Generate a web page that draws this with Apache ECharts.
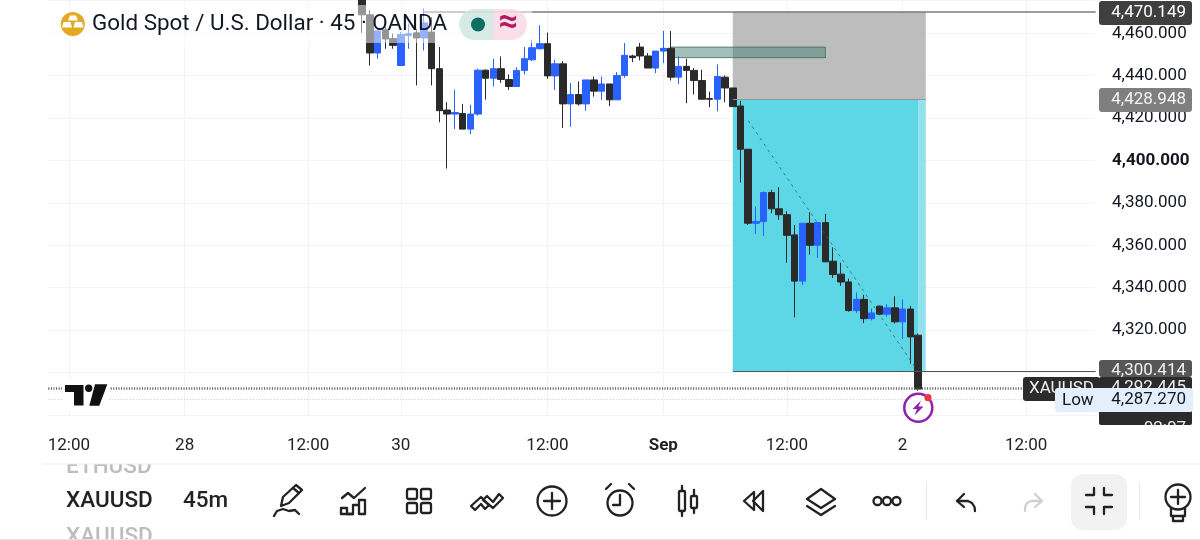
<!DOCTYPE html>
<html><head><meta charset="utf-8">
<style>html,body{margin:0;padding:0;background:#fff}#c{width:1200px;height:540px}</style>
<script src="https://cdn.jsdelivr.net/npm/echarts@6/dist/echarts.min.js"></script>
</head><body><div id="c"></div>
<script>
const firstCandle = 39;
const opens  = [4495,4490,4482,4468.7,4450.7,4461.7,4457.5,4444.8,4459,4460.2,4457.8,4460.6,4443.3,4423.8,4421.9,4422.2,4414.8,4421.9,4442.6,4438.8,4443.3,4438.2,4434.9,4442.5,4447.5,4452.7,4455.1,4439.9,4445.6,4426.7,4431.1,4426.7,4438,4432.7,4436.1,4428.6,4440.1,4449.3,4453.5,4449.3,4443.6,4451.6,4452.9,4439.3,4444.4,4442.5,4437.7,4429.2,4428.9,4439.3,4434.2,4425.7,4405.3,4370.4,4371.2,4384.9,4377.2,4374.4,4364.9,4343.1,4370.4,4360,4370.7,4352.5,4346.4,4342.7,4329.2,4334.5,4325.4,4331.3,4327.5,4330.5,4323.9,4329.9,4317.6];
const closes = [4490,4485,4468.7,4450.7,4461.1,4457.3,4454.3,4459.4,4459.8,4457.8,4464.9,4443.3,4423.5,4421.9,4422.6,4414.8,4421.9,4442.6,4438.8,4443.3,4438.2,4434.9,4442.5,4448,4453.2,4455.1,4439.9,4445.6,4426.7,4431.1,4426.7,4438,4432.7,4436.1,4428.6,4440.1,4449.6,4448.5,4449.3,4443.6,4451.6,4452.9,4439.3,4444.4,4442.5,4437.7,4428.9,4428.9,4439.6,4434.2,4425.4,4405.3,4370.4,4371.3,4384.9,4377.2,4374.4,4364.7,4343.1,4370.4,4360,4370.7,4352.2,4346.2,4342.7,4329.2,4334.5,4325.4,4328.1,4327.5,4330.5,4323.9,4329.9,4316.8,4292.2];
const lows   = [4489,4484,4460.2,4444.8,4448,4452.7,4452.7,4444.5,4452.7,4435.4,4451.9,4435.4,4418,4396.2,4414.8,4414.8,4412.4,4421.1,4428.7,4434.9,4436.6,4433.3,4434.9,4440.6,4446.9,4452.3,4438.5,4433.3,4415.3,4415.9,4425.9,4423.5,4430.1,4428.6,4425.6,4428.6,4439,4446.4,4447.2,4443.6,4441.2,4445.9,4437.7,4436.1,4427,4431.1,4428.9,4425.1,4423.2,4427.5,4425.4,4389.6,4369.6,4365.3,4364.4,4375.1,4372,4351.8,4326,4341.2,4355.6,4354,4352.2,4344.6,4340.8,4328.7,4328.1,4323.3,4324.6,4327,4326.3,4323.1,4315.8,4304.2,4291.4];
const highs  = [4500,4496,4486,4470.9,4462.2,4463,4459.8,4460.6,4464.6,4462,4471.7,4467.7,4453.5,4427.5,4433.3,4426.7,4426.3,4443.3,4442.9,4448,4449.1,4440.6,4444,4453.5,4457,4463.8,4460.3,4447.5,4446.9,4436.5,4437.3,4438,4439.6,4439.6,4436.1,4441.7,4455.4,4449.9,4455.4,4450.7,4451.6,4461.1,4461.1,4449.1,4448,4443.6,4442.8,4432.5,4445.3,4440.1,4434.2,4428.1,4405.3,4378.3,4385.4,4386.2,4387.4,4376,4369.6,4370.4,4375.6,4370.7,4374.8,4359,4351.8,4344.3,4337.8,4336.7,4330.2,4331.6,4332.2,4336,4334.5,4331.4,4318.4];
const tickIndex  = [3,18,34,46,65,80,96,111,127];
const tickLabels = ['12:00','28','12:00','30','12:00','Sep','12:00','2','12:00'];
const priceTicks = {min:4280,max:4475.7,step:20};
const targetTop = 4470.149, entryPrice = 4428.948, targetLow = 4300.414, lastPrice = 4292.445, lowPrice = 4287.27;
const boxHigh = 4453.5, boxLow = 4448.5;
const titleText = 'Gold Spot / U.S. Dollar \u00b7 45 \u00b7 OANDA';

const slots = 137;
const categories = Array.from({length:slots},(_,i)=>String(i));
const candles = opens.map((o,i)=>[firstCandle+i,o,closes[i],lows[i],highs[i]]);
const isTick = (i)=>tickIndex.includes(i);

const FF = 'Roboto, sans-serif';
const Z = 100;
const rect=(x,y,w,h,fill,r,z)=>({type:'rect',z:z||Z,silent:true,shape:{x,y,width:w,height:h,r:r||0},style:{fill}});
const txt=(t,x,y,font,fill,align,z)=>({type:'text',z:z||Z,silent:true,style:{text:t,x,y,font:font+' '+FF,fill,align:align||'left',verticalAlign:'middle',textAlign:align||'left',textVerticalAlign:'middle'}});
const pts=s=>s.trim().split(/\s+/).map(p=>p.split(',').map(Number));
const IC='#222';
const line=(s,c,w,z)=>({type:'polyline',z:z||Z+2,silent:true,shape:{points:pts(s)},style:{fill:null,stroke:c||IC,lineWidth:w||2.3,lineCap:'round',lineJoin:'round'}});
const poly=(s,fill,stroke,z)=>({type:'polygon',z:z||Z+2,silent:true,shape:{points:pts(s)},style:{fill:fill||'none',stroke:stroke||null,lineWidth:2.3,lineJoin:'round'}});
const circ=(cx,cy,r,fill,stroke,w,z)=>({type:'circle',z:z||Z+2,silent:true,shape:{cx,cy,r},style:{fill:fill||'none',stroke:stroke===undefined?IC:stroke,lineWidth:w===undefined?2.3:w}});
const box=(x,y,w,h,r)=>({type:'rect',z:Z+2,silent:true,shape:{x,y,width:w,height:h,r:r||0},style:{fill:'none',stroke:IC,lineWidth:2.3}});

const elements = [
  rect(0,0,48,432,'#fff',0,Z-5),
  rect(50,5,482,38,'rgba(255,255,255,0.5)',0,Z-4),
  circ(72.8,24,12,'#e5a823',null,0,Z),
  poly('70,15.5 76,15.5 78,20.5 68,20.5','#fff',null,Z+1),
  poly('63.5,22 70.5,22 72,27.5 62,27.5','#fff',null,Z+1),
  poly('75,22 82,22 83.5,27.5 73.5,27.5','#fff',null,Z+1),
  txt(titleText,92,24,'22.4px','#131722'),
  rect(459,9,34,31,'rgba(205,230,224,0.8)',[15.5,0,0,15.5],Z),
  rect(493,9,34,31,'rgba(250,214,228,0.8)',[0,15.5,15.5,0],Z),
  circ(478,24.5,7,'#0d6f5f',null,0,Z+1),
  txt('\u2248',508,23,'bold 34px','#b01a60','center',Z+1),
  rect(1099,377,93,48,'#2b2b2b',2),
  txt('4,292.445',1186,388,'17px','#eee','right',Z),
  txt('02:07',1186,429,'17px','#eee','right',Z),
  rect(1099,1,93,24,'#3f3f3f',3,Z+1),
  txt('4,470.149',1186,13,'17px','#fff','right',Z+1),
  rect(1099,88,93,24,'#7f7f7f',3,Z+1),
  txt('4,428.948',1186,100,'17px','#f5f5f5','right',Z+1),
  rect(1099,360,93,17,'#565656',3,Z+1),
  txt('4,300.414',1186,371,'17px','#f0f0f0','right',Z+1),
  rect(1023,377,77,24,'#2b2b2b',3,Z+1),
  txt('XAUUSD',1029,389,'17px','#eee','left',Z+1),
  rect(1055,388,138,24,'#e3effb',3,Z+2),
  txt('Low',1062,400.5,'17px','#131722','left',Z+3),
  txt('4,287.270',1186,400,'17px','#131722','right',Z+3),
  rect(1090,425,110,11,'#fff',0,Z+4),
  rect(62,380,47,29,'#fff',0,Z),
  poly('65,385 83.5,385 83.5,405.5 74,405.5 74,392 65,392','#111',null,Z+1),
  circ(88.7,388.3,3.7,'#111',null,0,Z+1),
  poly('95,384.3 107.3,384.3 99.3,405.7 89.3,405.7','#111',null,Z+1),
  circ(918.3,407.7,14,'#fff','#8e24aa',2.5,Z+1),
  poly('921,400.5 912.5,409 917,409 914.5,415.5 923.5,406.5 918.5,406.5','#8e24aa',null,Z+2),
  circ(928,397.7,3.6,'#e53945',null,0,Z+3),
  txt('ETHUSD',66,467,'500 22.5px','#bdbdbd'),
  rect(0,452,1200,12,'#fff',0,Z+1),
  rect(42,463.5,1158,1,'#ececec',0,Z+2),
  txt('XAUUSD',66,501.5,'500 22.5px','#222'),
  txt('XAUUSD',66,537,'500 22.5px','#bdbdbd'),
  rect(0,539,1200,1,'#e6e6e6',0,Z+2),
  txt('45m',183,501.5,'500 22.5px','#222'),
  line('281,506 283,497 296,485 302,490 289,503 281,506'),
  line('293,488 299,493'),
  line('274,516 277,511 283,509 289,511 295,510 299,514'),
  line('342,498 348,493 354,498 365,488'),
  line('341,514 341,508 347,508 347,514 353,514 353,505 359,505 359,514 365,514 365,500 359,500 359,505'),
  line('341,514 353,514'),
  box(407,489,10,10,2),box(421,489,10,10,2),box(407,503,10,10,2),box(421,503,10,10,2),
  line('471,506 481,497 489,505 485,509 481,504 475,510 471,506'),
  line('487,496 493,502 499,494 503,498 493,508 483,500 487,496'),
  circ(552,501,14.5),line('552,493 552,509'),line('544,501 560,501'),
  circ(620,503,12.5),line('620,495 620,505 613,505'),line('606,489 611,484'),line('629,484 634,489'),
  box(679,491,6,20,1),line('682,486 682,491'),line('682,511 682,516'),
  box(691,496,6,12,1),line('694,490 694,496'),line('694,508 694,513'),
  poly('754,492 744,501 754,510',null,IC),poly('763,491 753,501 763,511',null,IC),
  poly('821,489 835,499 821,508 807,499',null,IC),line('807,506 821,515 835,506'),
  circ(877.5,501,4),circ(887,501,4),circ(896.5,501,4),
  rect(926,482,1,38,'#e8e8e8'),
  line('964,494 957,501 964,507'),line('957,501 968,501 972,503 974.5,507 975,511'),
  line('1035,494 1042,501 1035,507','#d0d0d0'),line('1042,501 1031,501 1027,503 1025,507 1025,511','#d0d0d0'),
  rect(1071,474,56,56,'#f2f2f2',12),
  line('1094,488 1094,495 1086,495'),line('1104,488 1104,495 1112,495'),
  line('1086,507 1094,507 1094,514'),line('1112,507 1104,507 1104,514'),
  rect(1139,482,1,38,'#e8e8e8'),
  circ(1178,497,12.5),line('1178,490 1178,504'),line('1171,497 1185,497'),
  line('1171,508 1171,516 1185,516 1185,508'),line('1173,516 1173,521 1183,521 1183,516')
];

const commas = (v)=>String(v).replace(/\B(?=(\d{3})+$)/g,',');
const chart = echarts.init(document.getElementById('c'),null,{renderer:'canvas'});
chart.setOption({
  animation:false,
  backgroundColor:'#fff',
  grid:{left:45.7,top:0,width:(slots-1)*7.72,height:414.9,containLabel:false},
  xAxis:{type:'category',data:categories,boundaryGap:false,
    axisLine:{show:false},axisTick:{show:false},
    splitLine:{show:true,interval:(i)=>isTick(i),lineStyle:{color:'#e9e9e9',type:'dotted',width:1}},
    axisLabel:{interval:(i)=>isTick(i),margin:22,hideOverlap:false,
      formatter:(v)=>{const k=tickIndex.indexOf(Number(v));if(k<0)return '';return tickLabels[k]==='Sep'?'{b|Sep}':tickLabels[k];},
      color:'#222',fontFamily:FF,fontSize:17,rich:{b:{fontWeight:'bold',fontFamily:FF,fontSize:17,color:'#222'}}}},
  yAxis:{type:'value',position:'right',min:priceTicks.min,max:priceTicks.max,interval:priceTicks.step,scale:true,
    axisLine:{show:false},axisTick:{show:false},
    splitLine:{show:true,lineStyle:{color:'#e9e9e9',type:'dotted',width:1}},
    axisLabel:{margin:16.4,color:'#131722',fontFamily:FF,fontSize:17,showMinLabel:false,showMaxLabel:false,
      formatter:(v)=>{if(v<=4300||v>4460)return '';const s=commas(v)+'.000';return v===4400?'{b|'+s+'}':s;},
      rich:{b:{fontWeight:'bold',fontFamily:FF,fontSize:17,color:'#131722'}}}},
  graphic:{elements},
  series:[{
    type:'candlestick',barWidth:7,
    encode:{x:0,y:[1,2,3,4]},
    data:candles,
    itemStyle:{color:'#2962ff',color0:'#2a2a2a',borderColor:'#2962ff',borderColor0:'#2a2a2a',borderWidth:1},
    markArea:{silent:true,data:[
      [{xAxis:89,yAxis:targetTop,itemStyle:{color:'#bdbdbd'}},{xAxis:114,yAxis:entryPrice}],
      [{xAxis:89,yAxis:entryPrice,itemStyle:{color:'#5dd6e6'}},{xAxis:113,yAxis:targetLow}],
      [{xAxis:113,yAxis:entryPrice,itemStyle:{color:'#92e2ed'}},{xAxis:114,yAxis:targetLow}],
      [{xAxis:81,yAxis:boxHigh,itemStyle:{color:'rgba(70,130,115,0.5)',borderColor:'rgba(60,100,90,0.75)',borderWidth:1}},{xAxis:101,yAxis:boxLow}]
    ]},
    markLine:{silent:true,symbol:'none',label:{show:false},animation:false,data:[
      [{xAxis:49,yAxis:targetTop,lineStyle:{color:'#7d7d7d',width:1.5,type:'solid'}},{xAxis:136,yAxis:targetTop}],
      [{xAxis:89,yAxis:entryPrice,lineStyle:{color:'#8a9a9e',width:1,type:'solid'}},{xAxis:114,yAxis:entryPrice}],
      [{xAxis:89,yAxis:targetLow,lineStyle:{color:'#555',width:1,type:'solid'}},{xAxis:136,yAxis:targetLow}],
      [{xAxis:0,yAxis:lastPrice,lineStyle:{color:'#555',width:2.5,type:[1,1.6]}},{xAxis:127,yAxis:lastPrice}],
      [{xAxis:0,yAxis:lowPrice,lineStyle:{color:'#c4c4c4',width:1,type:[1,2]}},{xAxis:136,yAxis:lowPrice}],
      [{xAxis:91,yAxis:4418.8,lineStyle:{color:'rgba(60,90,100,0.75)',width:1,type:[3,4]}},{xAxis:113,yAxis:targetLow}]
    ]}
  }]
});
</script></body></html>
